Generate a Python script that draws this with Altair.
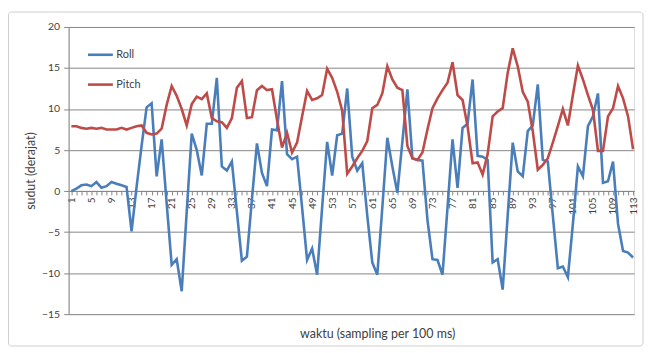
import altair as alt
import pandas as pd

samples = list(range(1, 114))

roll = [0.0, 0.3, 0.7, 0.8, 0.6, 1.1, 0.4, 0.6, 1.1, 0.9,
        0.7, 0.5, -4.9, 0.5, 5.5, 10.2, 10.7, 1.8, 6.3, -1.5,
        -9.0, -8.3, -12.2, -2.5, 7.0, 5.0, 1.9, 8.2, 8.2, 13.8,
        3.0, 2.5, 3.6, -2.5, -8.5, -8.0, -1.0, 5.8, 2.2, 0.6,
        7.5, 7.4, 13.4, 4.5, 3.9, 4.2, -2.0, -8.4, -7.0, -10.2,
        -2.0, 6.0, 1.9, 6.8, 7.0, 12.5, 4.2, 2.5, 3.4, -3.0,
        -8.7, -10.2, -2.0, 6.5, 3.0, -0.2, 6.0, 12.4, 4.0, 3.8,
        3.7, -3.5, -8.3, -8.4, -10.2, -2.0, 6.3, 0.4, 7.7, 8.2,
        13.6, 4.3, 4.2, 3.8, -8.7, -8.3, -12.0, -3.0, 5.9, 2.4,
        1.8, 7.3, 8.0, 13.0, 3.8, 3.6, -3.0, -9.4, -9.2, -10.5,
        -4.0, 3.0, 1.8, 7.9, 9.1, 11.9, 1.0, 1.2, 3.6, -4.0,
        -7.3, -7.5, -8.1]

pitch = [7.9, 7.9, 7.7, 7.6, 7.7, 7.6, 7.7, 7.5, 7.5, 7.5,
         7.7, 7.5, 7.7, 7.9, 8.0, 7.1, 6.9, 7.0, 7.6, 10.5,
         12.8, 11.6, 10.0, 8.0, 10.6, 11.5, 11.2, 11.9, 8.9, 8.5,
         8.4, 7.7, 8.9, 12.6, 13.4, 8.9, 9.0, 12.3, 12.8, 12.3,
         12.4, 8.7, 5.3, 7.1, 4.7, 5.9, 9.1, 12.2, 11.1, 11.3,
         11.7, 14.9, 13.8, 12.1, 9.8, 2.1, 3.0, 4.0, 4.9, 6.1,
         10.1, 10.5, 11.9, 15.2, 13.6, 12.6, 12.3, 5.5, 4.0, 3.8,
         4.7, 7.5, 10.1, 11.3, 12.3, 13.2, 15.7, 11.7, 11.1, 7.9,
         3.4, 3.5, 2.0, 4.5, 9.1, 9.7, 10.1, 14.4, 17.4, 15.2,
         12.1, 10.9, 7.3, 2.6, 3.2, 4.0, 5.9, 7.9, 10.0, 8.0,
         11.7, 15.3, 13.6, 11.7, 9.9, 4.9, 4.9, 9.1, 10.1, 12.8,
         11.3, 9.1, 5.1]

series_names = ["Roll", "Pitch"]
series_colors = ["#4A7EBB", "#BE4B48"]
y_ticks = [-15, -10, -5, 0, 5, 10, 15, 20]

df = pd.DataFrame(
    {"sample": samples * 2,
     "series": ["Roll"] * len(samples) + ["Pitch"] * len(samples),
     "value": roll + pitch}
)

FONT = "Lato"
GRAY = "#868686"
TXT = "#404040"

frame = alt.Chart(alt.Data(values=[{}])).mark_rect(
    fill=None, stroke="#cfcfcf", strokeWidth=1, cornerRadius=3, clip=False
).encode(
    x=alt.value(-60.5), x2=alt.value(578), y=alt.value(-15), y2=alt.value(321)
)

lines = alt.Chart(df).mark_line(strokeWidth=2.6, clip=False).encode(
    x=alt.X(
        "sample:Q",
        scale=alt.Scale(domain=[0.45, 113.2], nice=False, zero=False),
        axis=alt.Axis(
            values=samples,
            labelExpr="(datum.value - 1) % 4 == 0 ? datum.label : ''",
            labelAngle=270,
            labelFontSize=10,
            labelFont=FONT,
            labelColor=TXT,
            labelOverlap=False,
            labelBound=False,
            labelFlush=False,
            labelPadding=2,
            tickSize=4,
            tickColor=GRAY,
            domainColor=GRAY,
            grid=False,
            offset=-124,
            title=None,
        ),
    ),
    y=alt.Y(
        "value:Q",
        scale=alt.Scale(domain=[-15, 20], nice=False),
        axis=alt.Axis(
            values=y_ticks,
            grid=True,
            gridColor=GRAY,
            gridWidth=1,
            domainColor=GRAY,
            tickColor=GRAY,
            tickSize=5,
            labelFontSize=10.5,
            labelFont=FONT,
            labelColor=TXT,
            labelPadding=4,
            title="sudut (derajat)",
            titleFont=FONT,
            titleFontSize=12.5,
            titleFontWeight="normal",
            titleColor=TXT,
            titlePadding=4,
        ),
    ),
    color=alt.Color(
        "series:N",
        scale=alt.Scale(domain=series_names, range=series_colors),
        sort=series_names,
        legend=alt.Legend(
            title=None,
            orient="none",
            legendX=18,
            legendY=14,
            symbolType="stroke",
            symbolSize=625,
            symbolStrokeWidth=2.6,
            rowPadding=10,
            labelFont=FONT,
            labelFontSize=11,
            labelColor=TXT,
            labelOffset=2,
        ),
    ),
    order=alt.Order("sample:Q"),
)

xtitle = alt.Chart(alt.Data(values=[{"t": "waktu (sampling per 100 ms)"}])).mark_text(
    font=FONT, fontSize=12.5, color=TXT, clip=False
).encode(x=alt.value(311), y=alt.value(309), text="t:N")

chart = alt.layer(frame, lines, xtitle).properties(
    width=569,
    height=289,
    autosize=alt.AutoSizeParams(type="none"),
    padding={"left": 61, "top": 18, "right": 12, "bottom": 36},
).configure_view(stroke=None).configure(background="white")

chart.save("out.html", embed_options={"renderer": "svg", "actions": False})
